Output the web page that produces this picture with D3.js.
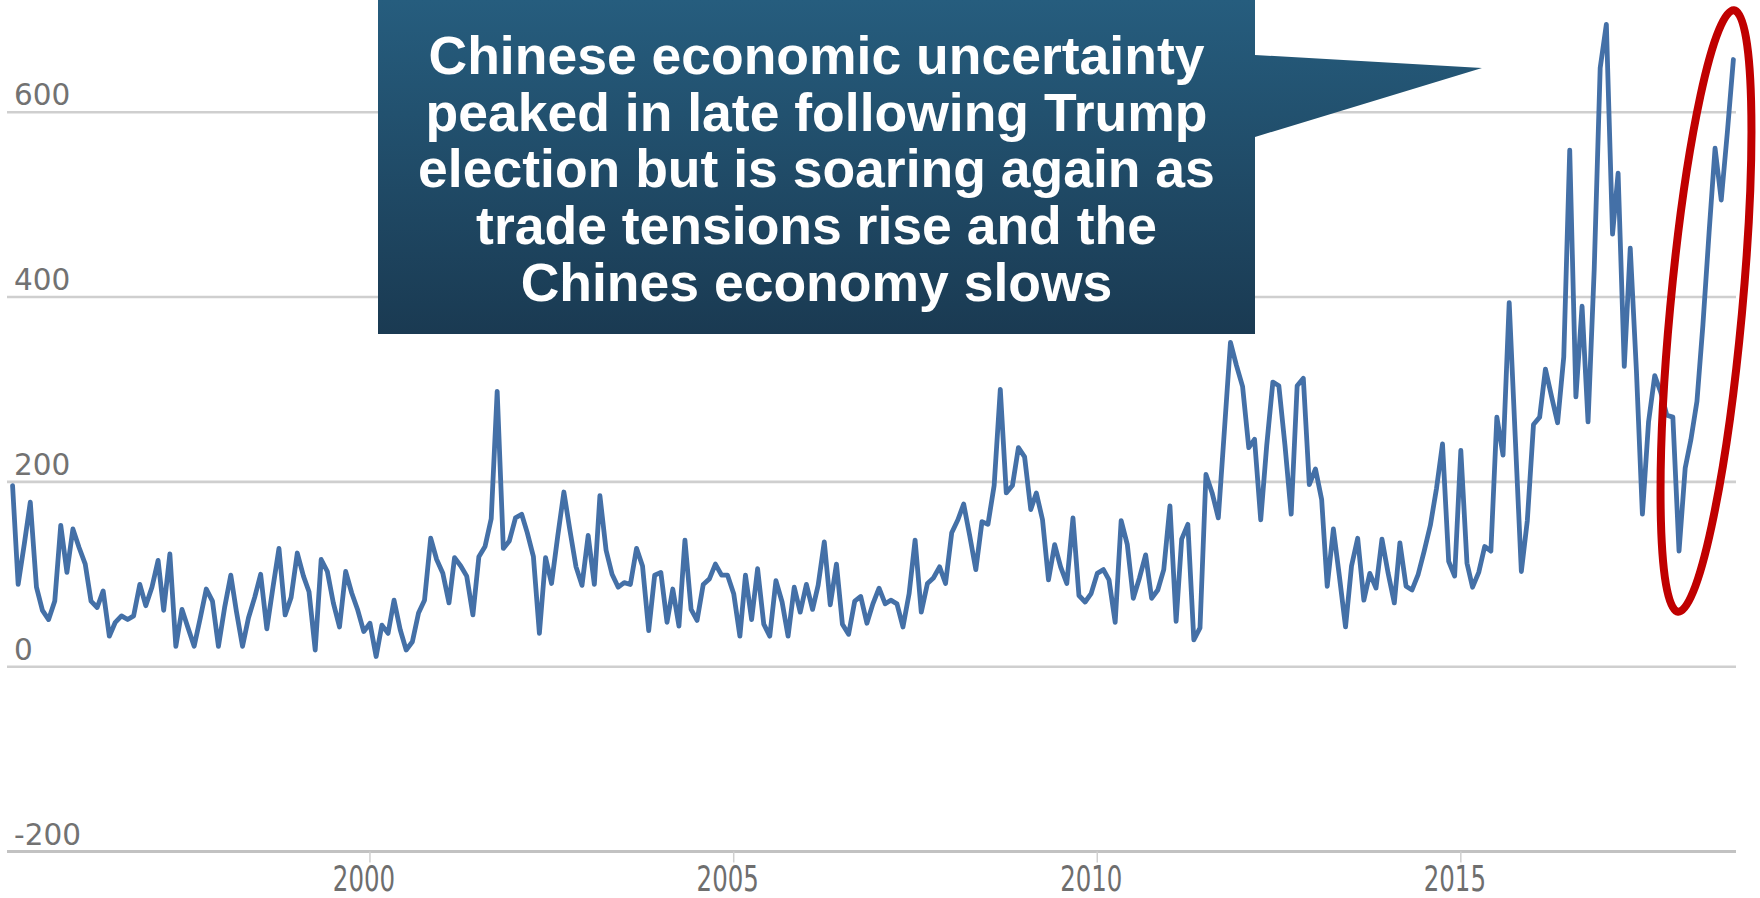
<!DOCTYPE html>
<html>
<head>
<meta charset="utf-8">
<script src="https://cdn.jsdelivr.net/npm/d3@7"></script>
<style>
  html, body { margin: 0; padding: 0; background: #ffffff; }
  svg { display: block; }
</style>
</head>
<body>
<svg id="chart" width="1760" height="898"></svg>
<script>
// China economic policy uncertainty index, monthly, starting February 1995
const seriesStart = { year: 1995, month: 1 }; // month is zero-based (1 = February)
const epuValues = [
  /* 1995 */ 196, 89, 133, 178, 86, 61, 51, 71, 153, 102, 149,
  /* 1996 */ 129, 111, 71, 64, 82, 33, 48, 55, 51, 55, 89, 66,
  /* 1997 */ 86, 115, 61, 122, 22, 62, 42, 22, 53, 84, 71, 22,
  /* 1998 */ 64, 99, 60, 22, 53, 75, 100, 41, 86, 128, 56, 75,
  /* 1999 */ 123, 98, 81, 18, 116, 103, 69, 43, 103, 80, 61, 38,
  /* 2000 */ 47, 11, 45, 36, 72, 40, 18, 27, 58, 72, 139, 116,
  /* 2001 */ 101, 69, 118, 109, 98, 56, 119, 130, 160, 298, 128, 136,
  /* 2002 */ 161, 165, 145, 119, 36, 118, 90, 141, 189, 148, 108, 88,
  /* 2003 */ 142, 89, 185, 126, 100, 86, 91, 89, 128, 109, 39, 99,
  /* 2004 */ 102, 48, 84, 44, 137, 62, 50, 89, 95, 111, 99, 99,
  /* 2005 */ 79, 33, 99, 51, 106, 46, 33, 93, 70, 33, 86, 59,
  /* 2006 */ 89, 62, 88, 135, 67, 111, 46, 35, 71, 76, 47, 68,
  /* 2007 */ 85, 68, 72, 68, 43, 79, 137, 59, 90, 96, 108, 90,
  /* 2008 */ 145, 159, 176, 141, 105, 157, 154, 196, 300, 188, 196, 237,
  /* 2009 */ 227, 170, 188, 159, 94, 132, 108, 90, 161, 77, 70, 79,
  /* 2010 */ 101, 105, 94, 48, 158, 132, 74, 96, 121, 74, 83, 105,
  /* 2011 */ 174, 49, 138, 154, 29, 42, 208, 188, 161, 254, 351, 326,
  /* 2012 */ 303, 237, 246, 159, 239, 308, 304, 239, 165, 304, 312, 197,
  /* 2013 */ 214, 181, 87, 149, 98, 43, 109, 139, 72, 101, 85, 138,
  /* 2014 */ 101, 69, 134, 87, 83, 100, 125, 153, 193, 241, 114, 98,
  /* 2015 */ 234, 112, 86, 102, 130, 125, 270, 229, 394, 250, 103, 158,
  /* 2016 */ 262, 270, 322, 292, 264, 335, 559, 292, 390, 265, 430, 648,
  /* 2017 */ 695, 468, 534, 325, 453, 320, 165, 265, 315, 297, 272, 270,
  /* 2018 */ 125, 215, 245, 287, 370, 470, 561, 505, 579, 657
];
const yTickValues = [-200, 0, 200, 400, 600];
const xTickYears = [2000, 2005, 2010, 2015];
const calloutLines = [
  "Chinese economic uncertainty",
  "peaked in late following Trump",
  "election but is soaring again as",
  "trade tensions rise and the",
  "Chines economy slows"
];

const series = epuValues.map((v, i) => ({
  date: new Date(seriesStart.year, seriesStart.month + i, 1),
  value: v
}));

const svg = d3.select("#chart");

const x = d3.scaleTime()
  .domain([new Date(1995, 0, 1), new Date(2019, 0, 1)])
  .range([6.4, 1751.7]);

const y = d3.scaleLinear()
  .domain([-200, 600])
  .range([851.5, 112.2]);

const gridLeft = 7, gridRight = 1736;

// horizontal grid lines
svg.append("g")
  .selectAll("line")
  .data(yTickValues)
  .join("line")
  .attr("x1", gridLeft)
  .attr("x2", gridRight)
  .attr("y1", d => y(d))
  .attr("y2", d => y(d))
  .attr("stroke", d => d === -200 ? "#c2c2c2" : "#cfcfcf")
  .attr("stroke-width", d => d === -200 ? 3.2 : 2.6);

// y-axis labels sit above their grid line
svg.append("g")
  .selectAll("text")
  .data(yTickValues)
  .join("text")
  .attr("x", 14)
  .attr("y", d => y(d) - 7)
  .attr("font-family", "DejaVu Sans, Verdana, sans-serif")
  .attr("font-size", 29.5)
  .attr("fill", "#727272")
  .text(d => d3.format("d")(d).replace("−", "-"));

// x-axis ticks and narrow year labels
const xAxis = svg.append("g");
xAxis.selectAll("line")
  .data(xTickYears)
  .join("line")
  .attr("x1", d => x(new Date(d, 0, 1)))
  .attr("x2", d => x(new Date(d, 0, 1)))
  .attr("y1", y(-200))
  .attr("y2", y(-200) + 11)
  .attr("stroke", "#cfcfcf")
  .attr("stroke-width", 1.5);

xAxis.selectAll("text")
  .data(xTickYears)
  .join("text")
  .attr("transform", d => `translate(${x(new Date(d, 0, 1)) - 6},891) scale(0.68,1)`)
  .attr("text-anchor", "middle")
  .attr("font-family", "DejaVu Sans, Verdana, sans-serif")
  .attr("font-size", 36)
  .attr("fill", "#6e6e6e")
  .text(d => d);

// index line
const line = d3.line()
  .x(d => x(d.date))
  .y(d => y(d.value));

svg.append("path")
  .datum(series)
  .attr("d", line)
  .attr("fill", "none")
  .attr("stroke", "#4470a7")
  .attr("stroke-width", 4.8)
  .attr("stroke-linejoin", "round")
  .attr("stroke-linecap", "round");

// red ellipse around the 2018 surge
svg.append("ellipse")
  .attr("cx", 0).attr("cy", 0)
  .attr("rx", 36).attr("ry", 302)
  .attr("transform", "translate(1706,311) rotate(5.3)")
  .attr("fill", "none")
  .attr("stroke", "#c00000")
  .attr("stroke-width", 8);

// callout box with pointer
const defs = svg.append("defs");
const grad = defs.append("linearGradient")
  .attr("id", "calloutFill")
  .attr("gradientUnits", "userSpaceOnUse")
  .attr("x1", 0).attr("y1", 0).attr("x2", 0).attr("y2", 334);
grad.append("stop").attr("offset", 0).attr("stop-color", "#265d7e");
grad.append("stop").attr("offset", 1).attr("stop-color", "#1a3a52");

const box = { left: 378, right: 1255, top: 0, bottom: 334 };
const tip = { x: 1482, y: 68, upper: 55, lower: 137 };
const calloutPath = d3.path();
calloutPath.moveTo(box.left, box.top);
calloutPath.lineTo(box.right, box.top);
calloutPath.lineTo(box.right, tip.upper);
calloutPath.lineTo(tip.x, tip.y);
calloutPath.lineTo(box.right, tip.lower);
calloutPath.lineTo(box.right, box.bottom);
calloutPath.lineTo(box.left, box.bottom);
calloutPath.closePath();

svg.append("path")
  .attr("d", calloutPath.toString())
  .attr("fill", "url(#calloutFill)");

svg.append("g")
  .selectAll("text")
  .data(calloutLines)
  .join("text")
  .attr("x", (box.left + box.right) / 2)
  .attr("y", (d, i) => 74 + i * 56.7)
  .attr("text-anchor", "middle")
  .attr("font-family", "Liberation Sans, Arial, sans-serif")
  .attr("font-weight", "bold")
  .attr("font-size", 53.5)
  .attr("fill", "#ffffff")
  .text(d => d);
</script>
</body>
</html>
